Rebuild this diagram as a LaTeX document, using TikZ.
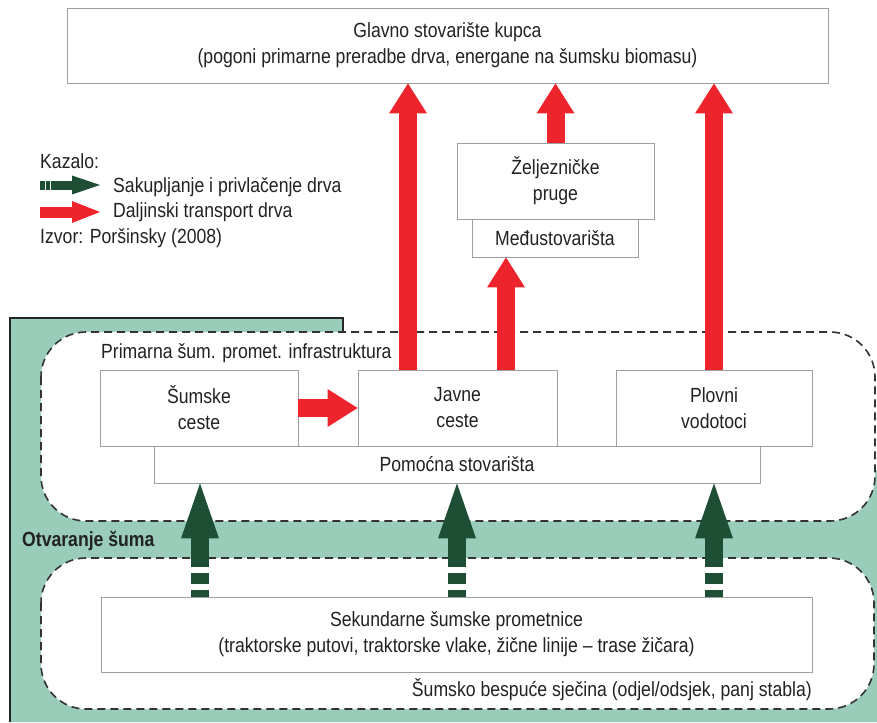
\documentclass[tikz,border=0pt]{standalone}
\usepackage{fontspec}
\setmainfont{Liberation Sans}[FakeStretch=0.86]
\usetikzlibrary{arrows.meta}

\definecolor{crvena}{RGB}{237,36,43}
\definecolor{tamnozelena}{RGB}{30,78,52}
\definecolor{svijetlozelena}{RGB}{153,205,185}
\definecolor{okvir}{RGB}{160,160,160}
\definecolor{tekst}{RGB}{34,34,34}

\begin{document}
\begin{tikzpicture}[x=1pt, y=-1pt,
  every node/.style={font=\fontsize{20.5}{26}\selectfont, text=tekst, inner sep=0pt},
  box/.style={draw=okvir, fill=white, line width=0.9pt, align=center},
  zona/.style={draw=black!80, fill=white, line width=1.6pt, dash pattern=on 8pt off 5pt, rounded corners=45pt},
  transport/.style={crvena, line width=18pt, -{Triangle[width=38pt, length=30pt, line width=0pt]}},
  privlacenje/.style={tamnozelena, line width=18pt, dash pattern=on 7pt off 6pt on 11pt off 6pt on 400pt, -{Triangle[width=38pt, length=55pt, line width=0pt]}},
  kazalozelena/.style={tamnozelena, line width=9pt, dash pattern=on 4.5pt off 1.5pt on 3.5pt off 1.5pt on 100pt, -{Triangle[width=19pt, length=28pt, line width=0pt]}},
  kazalocrvena/.style={crvena, line width=11pt, -{Triangle[width=22pt, length=28pt, line width=0pt]}}]
\useasboundingbox (0,0) rectangle (877,722);

% podloga
\fill[svijetlozelena] (10,318) -- (343,318) -- (343,470) -- (877,470) -- (877,722) -- (10,722) -- cycle;
\draw[black!85, line width=2pt] (10,722) -- (10,318) -- (343,318) -- (343,332);

\draw[zona] (41,332) rectangle (875,521);
\draw[zona] (41,558) rectangle (874,709);

% kazalo
\node[anchor=west] (kazalo) at (40,161) {Kazalo:};
\node[anchor=west] (sakup) at (113,187) {Sakupljanje i privlačenje drva};
\node[anchor=west] (daljin) at (113,212) {Daljinski transport drva};
\node[anchor=west] (izvor) at (40,238) {Izvor: Poršinsky (2008)};
\coordinate (g1) at (40,185);
\coordinate (g2) at (100,185);
\coordinate (r1) at (40,212);
\coordinate (r2) at (100,212);
\draw[kazalozelena] (g1) -- (g2);
\draw[kazalocrvena] (r1) -- (r2);

% cvorovi
\node[box, minimum width=761pt, minimum height=75pt] (glavno) at (447.5,45.5) {Glavno stovarište kupca\\(pogoni primarne preradbe drva, energane na šumsku biomasu)};
\node[box, minimum width=197pt, minimum height=76pt] (zeljez) at (555.5,181) {Željezničke\\pruge};
\node[box, minimum width=166pt, minimum height=38pt] (medju) at (555,238) {Međustovarišta};

\node[anchor=west] (primarna) at (101,353) {Primarna šum. promet. infrastruktura};
\node[box, minimum width=606pt, minimum height=37pt] (pomocna) at (457,464.5) {Pomoćna stovarišta};
\node[box, minimum width=198pt, minimum height=76pt] (sumske) at (199,408) {Šumske\\ceste};
\node[box, minimum width=199pt, minimum height=76pt] (javne) at (457.5,408) {Javne\\ceste};
\node[box, minimum width=196pt, minimum height=76pt] (plovni) at (714,408) {Plovni\\vodotoci};

\node[anchor=west, font=\fontsize{20.5}{26}\selectfont\bfseries] (otvaranje) at (22,541) {Otvaranje šuma};

\node[box, minimum width=711pt, minimum height=75pt] (sekund) at (456.5,634.5) {Sekundarne šumske prometnice\\(traktorske putovi, traktorske vlake, žične linije – trase žičara)};
\node[anchor=east] (bespuce) at (812,690) {Šumsko bespuće sječina (odjel/odsjek, panj stabla)};

% strelice
\draw[transport] (javne.north -| 408,0) -- (glavno.south -| 408,0);
\draw[transport] (zeljez.north) -- (glavno.south -| zeljez.north);
\draw[transport] (plovni.north) -- (glavno.south -| plovni.north);
\draw[transport] (javne.north -| 506,0) -- (medju.south -| 506,0);
\draw[transport] (sumske.east) -- (javne.west);
\foreach \gx in {200,457,714}
  \draw[privlacenje] (sekund.north -| \gx,0) -- (pomocna.south -| \gx,0);
\end{tikzpicture}
\end{document}
